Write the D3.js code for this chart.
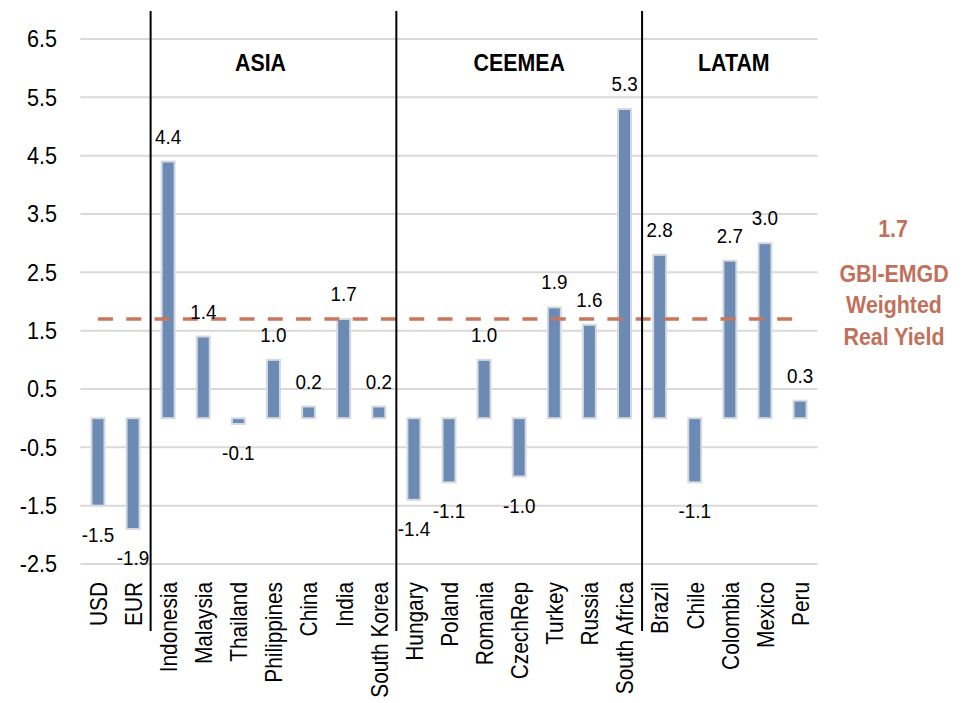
<!DOCTYPE html>
<html>
<head>
<meta charset="utf-8">
<script src="https://cdn.jsdelivr.net/npm/d3@7"></script>
<style>
  html, body { margin: 0; padding: 0; background: #ffffff; }
  svg { display: block; }
  text { font-family: "Liberation Sans", Arial, sans-serif; fill: #000; }
</style>
</head>
<body>
<svg id="chart" width="963" height="703"></svg>
<script>
// Real yields by market (%)
const categories = ["USD", "EUR", "Indonesia", "Malaysia", "Thailand", "Philippines", "China", "India",
  "South Korea", "Hungary", "Poland", "Romania", "CzechRep", "Turkey", "Russia", "South Africa",
  "Brazil", "Chile", "Colombia", "Mexico", "Peru"];
const realYield = [-1.5, -1.9, 4.4, 1.4, -0.1, 1.0, 0.2, 1.7, 0.2, -1.4, -1.1, 1.0, -1.0, 1.9, 1.6, 5.3,
  2.8, -1.1, 2.7, 3.0, 0.3];
const yTicks = [-2.5, -1.5, -0.5, 0.5, 1.5, 2.5, 3.5, 4.5, 5.5, 6.5];
const yTickLabels = ["-2.5", "-1.5", "-0.5", "0.5", "1.5", "2.5", "3.5", "4.5", "5.5", "6.5"];

// Regional groups: name, first and last market of each block
const groupNames = ["ASIA", "CEEMEA", "LATAM"];
const groupFirst = ["Indonesia", "Hungary", "Brazil"];
const groupLast = ["South Korea", "South Africa", "Peru"];

// Index benchmark
const benchmarkValue = 1.7;
const benchmarkLines = ["GBI-EMGD", "Weighted", "Real Yield"];

const svg = d3.select("#chart");
const plotLeft = 80.4, plotRight = 817.6;

const x = d3.scaleBand().domain(categories).range([plotLeft, plotRight]).padding(0);
const y = d3.scaleLinear().domain([-2.5, 6.5]).range([564, 39]);
const bw = x.bandwidth();
const cx = d => x(d) + bw / 2;
const fmt = v => v.toFixed(1);   // plain hyphen for negatives

const accent = "#c2705a";

// Condensed text: a regular face squeezed horizontally
function label(g, data, opts) {
  return g.selectAll(null).data(data).join("text")
    .attr("transform", (d, i) =>
      `translate(${opts.x(d, i)},${opts.y(d, i)}) rotate(${opts.rotate || 0}) scale(${opts.sx},1)`)
    .attr("text-anchor", opts.anchor || "middle")
    .attr("dy", opts.dy || null)
    .attr("font-size", opts.size)
    .attr("font-weight", opts.weight || null)
    .style("fill", opts.fill || "#000")
    .text(opts.text);
}

// Horizontal gridlines
svg.append("g").selectAll("line").data(yTicks).join("line")
  .attr("x1", plotLeft).attr("x2", plotRight)
  .attr("y1", d => y(d)).attr("y2", d => y(d))
  .attr("stroke", "#d9d9d9").attr("stroke-width", 2);

// Y axis labels
label(svg.append("g"), yTicks, {
  x: () => 57, y: d => y(d), anchor: "end", dy: "0.36em",
  size: 23.5, sx: 0.92, text: (d, i) => yTickLabels[i]
});

// Bars
const barW = 13;
const rows = categories.map((c, i) => ({ c, v: realYield[i] }));
svg.append("g").selectAll("rect").data(rows).join("rect")
  .attr("x", d => cx(d.c) - barW / 2)
  .attr("width", barW)
  .attr("y", d => y(Math.max(0, d.v)))
  .attr("height", d => Math.abs(y(d.v) - y(0)))
  .attr("fill", "#6b8bb4")
  .attr("stroke", "#d6dae0").attr("stroke-width", 2);

// Benchmark dashed line
svg.append("line")
  .attr("x1", cx(categories[0])).attr("x2", cx(categories[categories.length - 1]))
  .attr("y1", y(benchmarkValue)).attr("y2", y(benchmarkValue))
  .attr("stroke", "#c8775e").attr("stroke-width", 3.5)
  .attr("stroke-dasharray", "15 13.3");

// Region separators
svg.append("g").selectAll("line").data(groupFirst).join("line")
  .attr("x1", d => x(d)).attr("x2", d => x(d))
  .attr("y1", 11).attr("y2", 631)
  .attr("stroke", "#000").attr("stroke-width", 2);

// Region titles
const titleShift = { "ASIA": -13, "CEEMEA": 0, "LATAM": 4 };
label(svg.append("g"), groupNames, {
  x: (d, i) => (x(groupFirst[i]) + x(groupLast[i]) + bw) / 2 + titleShift[d],
  y: () => 70.5, size: 24, sx: 0.89, weight: "bold", text: d => d
});

// Value labels
label(svg.append("g"), rows, {
  x: d => cx(d.c), y: d => d.v >= 0 ? y(d.v) - 18 : y(d.v) + 36,
  size: 20.5, sx: 0.92, text: d => fmt(d.v)
});

// Category labels (rotated)
label(svg.append("g"), categories, {
  x: d => cx(d), y: () => 582, rotate: -90, anchor: "end", dy: "0.36em",
  size: 24.5, sx: 0.85, text: d => d
});

// Benchmark annotation
label(svg.append("g"), [fmt(benchmarkValue)], {
  x: () => 893, y: () => 236.5, size: 23.5, sx: 0.91, weight: "bold",
  fill: accent, text: d => d
});
label(svg.append("g"), benchmarkLines, {
  x: () => 894, y: (d, i) => 281.5 + i * 31.7, size: 23.5, sx: 0.91, weight: "bold",
  fill: accent, text: d => d
});
</script>
</body>
</html>
